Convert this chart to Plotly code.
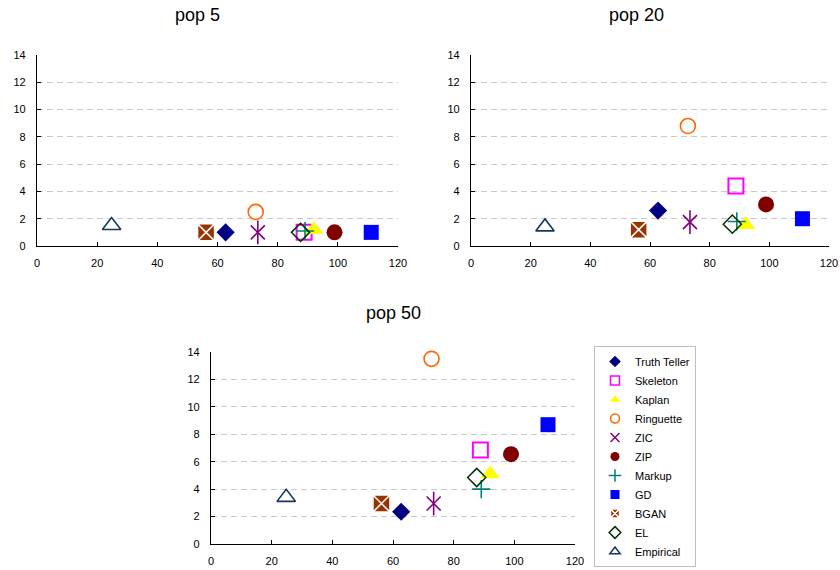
import plotly.graph_objects as go

series = ["Truth Teller", "Skeleton", "Kaplan", "Ringuette", "ZIC", "ZIP",
          "Markup", "GD", "BGAN", "EL", "Empirical"]
x_vals = [62.7, 88.8, 92.0, 72.7, 73.4, 98.9, 89.1, 111.1, 56.2, 87.6, 24.8]
pop5 = [1.0, 1.0, 1.2, 2.5, 1.0, 1.0, 1.1, 1.0, 1.0, 1.0, 1.5]
pop20 = [2.6, 4.4, 1.55, 8.8, 1.75, 3.05, 1.8, 2.0, 1.2, 1.6, 1.4]
pop50 = [2.35, 6.85, 5.1, 13.5, 2.95, 6.55, 4.0, 8.7, 2.95, 4.85, 3.4]
titles = ["pop 5", "pop 20", "pop 50"]

styles = {
    "Truth Teller": dict(symbol="diamond", color="#000080", size=14, lw=0, lc="#000080"),
    "Skeleton": dict(symbol="square-open", color="#FF00FF", size=15, lw=2, lc="#FF00FF"),
    "Kaplan": dict(symbol="triangle-up", color="#FFFF00", size=17, lw=0, lc="#FFFF00"),
    "Ringuette": dict(symbol="circle-open", color="#FF6600", size=15, lw=1.6, lc="#FF6600"),
    "ZIC": dict(symbol="x-thin-open", color="#800080", size=14, lw=1.6, lc="#800080"),
    "ZIP": dict(symbol="circle", color="#800000", size=16, lw=0, lc="#800000"),
    "Markup": dict(symbol="cross-thin-open", color="#008080", size=13, lw=1.6, lc="#008080"),
    "GD": dict(symbol="square", color="#0000FF", size=15, lw=0, lc="#0000FF"),
    "BGAN": dict(symbol="square-x", color="#993300", size=17, lw=1.5, lc="#FFFFFF"),
    "EL": dict(symbol="diamond-open", color="#003300", size=14, lw=1.5, lc="#003300"),
    "Empirical": dict(symbol="triangle-up-open", color="#17375E", size=16, lw=1.6, lc="#17375E"),
}

fig = go.Figure()
panels = [pop5, pop20, pop50]
for p, yv in enumerate(panels):
    xa = "x" if p == 0 else f"x{p+1}"
    ya = "y" if p == 0 else f"y{p+1}"
    for i, name in enumerate(series):
        st = styles[name]
        fig.add_trace(go.Scatter(
            x=[x_vals[i]], y=[yv[i]], mode="markers", name=name,
            legendgroup=name, showlegend=False, cliponaxis=False,
            marker=dict(symbol=st["symbol"], color=st["color"], size=st["size"],
                        line=dict(width=st["lw"], color=st["lc"])),
            xaxis=xa, yaxis=ya, hoverinfo="name+x+y"))
        if name == "ZIC":
            fig.add_trace(go.Scatter(
                x=[x_vals[i]], y=[yv[i]], mode="markers", name=name,
                legendgroup=name, showlegend=False, cliponaxis=False,
                marker=dict(symbol="line-ns-open", color=st["color"], size=17,
                            line=dict(width=1.6, color=st["color"])),
                xaxis=xa, yaxis=ya, hoverinfo="skip"))

# legend-only entries with small symbols
for name in series:
    st = styles[name]
    fig.add_trace(go.Scatter(
        x=[None], y=[None], mode="markers", name=name, legendgroup=name,
        showlegend=True, xaxis="x3", yaxis="y3",
        marker=dict(symbol=st["symbol"], color=st["color"], size=9,
                    line=dict(width=min(st["lw"], 1.5) if st["lw"] else 0,
                              color=st["lc"] if name != "BGAN" else "#FFFFFF"))))

W, H = 840, 570
domains = [
    ((37, 398), (55, 246)),
    ((471, 829), (55, 246)),
    ((211, 575), (352, 544)),
]
font = "Liberation Sans, Arial, sans-serif"
layout = dict(width=W, height=H, margin=dict(l=0, r=0, t=0, b=0, autoexpand=False),
              template="none",
              paper_bgcolor="white", plot_bgcolor="white",
              font=dict(family=font, size=11, color="black"))
for p, ((x0, x1), (y0, y1)) in enumerate(domains):
    sx = "" if p == 0 else str(p + 1)
    layout["xaxis" + sx] = dict(
        domain=[x0 / W, x1 / W], range=[0, 120], dtick=20, tick0=0,
        showgrid=False, zeroline=False, showline=True, linecolor="black", linewidth=1.2,
        ticks="inside", ticklen=4, tickcolor="black", anchor="y" + sx,
        ticklabelstandoff=7, automargin=False,
        tickfont=dict(size=11, family=font, color="black"), fixedrange=True)
    layout["yaxis" + sx] = dict(
        domain=[1 - y1 / H, 1 - y0 / H], range=[0, 14], dtick=2, tick0=0,
        showgrid=True, gridcolor="#C8C8C8", griddash="6px,4px", gridwidth=1,
        zeroline=False, showline=True, linecolor="black", linewidth=1.2,
        ticks="inside", ticklen=4, tickcolor="black", anchor="x" + sx,
        ticklabelstandoff=8, automargin=False,
        tickfont=dict(size=11, family=font, color="black"), fixedrange=True)

fig.update_layout(**layout)

title_pos = [(197, 15), (636, 15), (393, 313)]
for t, (tx, ty) in zip(titles, title_pos):
    fig.add_annotation(text=t, x=tx / W, y=1 - ty / H, xref="paper", yref="paper",
                       showarrow=False, font=dict(size=18, family=font, color="black"),
                       xanchor="center", yanchor="middle")

fig.update_layout(legend=dict(
    x=594 / W, y=1 - 346 / H, xanchor="left", yanchor="top",
    bordercolor="#BFBFBF", borderwidth=1, bgcolor="white",
    font=dict(size=11, family=font, color="black"), itemwidth=30, tracegroupgap=0,
    itemsizing="trace"))

fig.write_html("out.html", config={"displayModeBar": False},
               post_script="document.body.style.margin='0px';document.body.style.overflow='hidden';")
